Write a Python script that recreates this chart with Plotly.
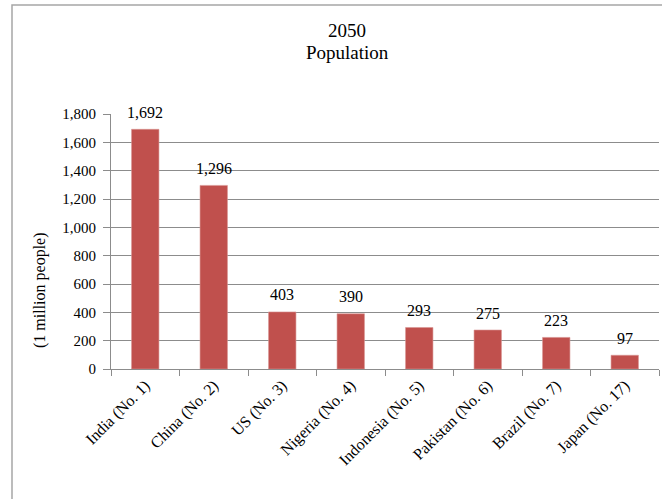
import plotly.graph_objects as go

countries = ["India (No. 1)", "China (No. 2)", "US (No. 3)", "Nigeria (No. 4)",
             "Indonesia (No. 5)", "Pakistan (No. 6)", "Brazil (No. 7)", "Japan (No. 17)"]
population = [1692, 1296, 403, 390, 293, 275, 223, 97]
y_ticks = [0, 200, 400, 600, 800, 1000, 1200, 1400, 1600, 1800]

W, H = 662, 499
L, R, T, B = 111, 3, 114, 130
pw, ph = W - L - R, H - T - B

def px_x(x):
    return (x - L) / pw

def px_y(y):
    return (H - B - y) / ph

FONT = "Liberation Serif"
BAR = "#C0504D"
GRID = "#8C8C8C"

fig = go.Figure()
fig.add_trace(go.Bar(
    x=countries, y=population,
    marker=dict(color=BAR, line=dict(color="#D99694", width=0.6)),
    width=0.4,
))

annotations = []
for c, v in zip(countries, population):
    annotations.append(dict(
        x=c, y=v, xref="x", yref="y", text=f"{v:,}", showarrow=False,
        xanchor="center", yanchor="middle", yshift=17,
        font=dict(family=FONT, size=16, color="black"),
    ))

annotations += [
    dict(x=px_x(347), y=px_y(30), xref="paper", yref="paper", text="2050",
         showarrow=False, xanchor="center", yanchor="middle",
         font=dict(family=FONT, size=19, color="black")),
    dict(x=px_x(347), y=px_y(53), xref="paper", yref="paper", text="Population",
         showarrow=False, xanchor="center", yanchor="middle",
         font=dict(family=FONT, size=19, color="black")),
    dict(x=px_x(40), y=px_y(290), xref="paper", yref="paper", text="(1 million people)",
         showarrow=False, textangle=-90, xanchor="center", yanchor="middle",
         font=dict(family=FONT, size=16, color="black")),
]

fig.update_layout(
    width=W, height=H,
    margin=dict(l=L, r=R, t=T, b=B),
    paper_bgcolor="white", plot_bgcolor="white",
    showlegend=False,
    annotations=annotations,
    bargap=0.6,
    shapes=[dict(type="rect", xref="paper", yref="paper",
                 x0=px_x(12), x1=px_x(670), y0=px_y(510), y1=px_y(5),
                 line=dict(color="#A6A6A6", width=1.5), fillcolor="rgba(0,0,0,0)", layer="below")],
)

fig.update_xaxes(
    type="category", tickangle=-45, tickson="boundaries",
    ticks="outside", ticklen=6, tickcolor=GRID,
    showline=True, linecolor=GRID, linewidth=1,
    showgrid=False,
    tickfont=dict(family=FONT, size=16, color="black"),
)
fig.update_yaxes(
    range=[0, 1800], tickvals=y_ticks, tickformat=",d",
    ticks="outside", ticklen=7, tickcolor=GRID,
    showline=True, linecolor=GRID, linewidth=1,
    showgrid=True, gridcolor=GRID, gridwidth=1,
    zeroline=False, ticklabelstandoff=4,
    tickfont=dict(family=FONT, size=15, color="black"),
)

fig.write_html("out.html")
